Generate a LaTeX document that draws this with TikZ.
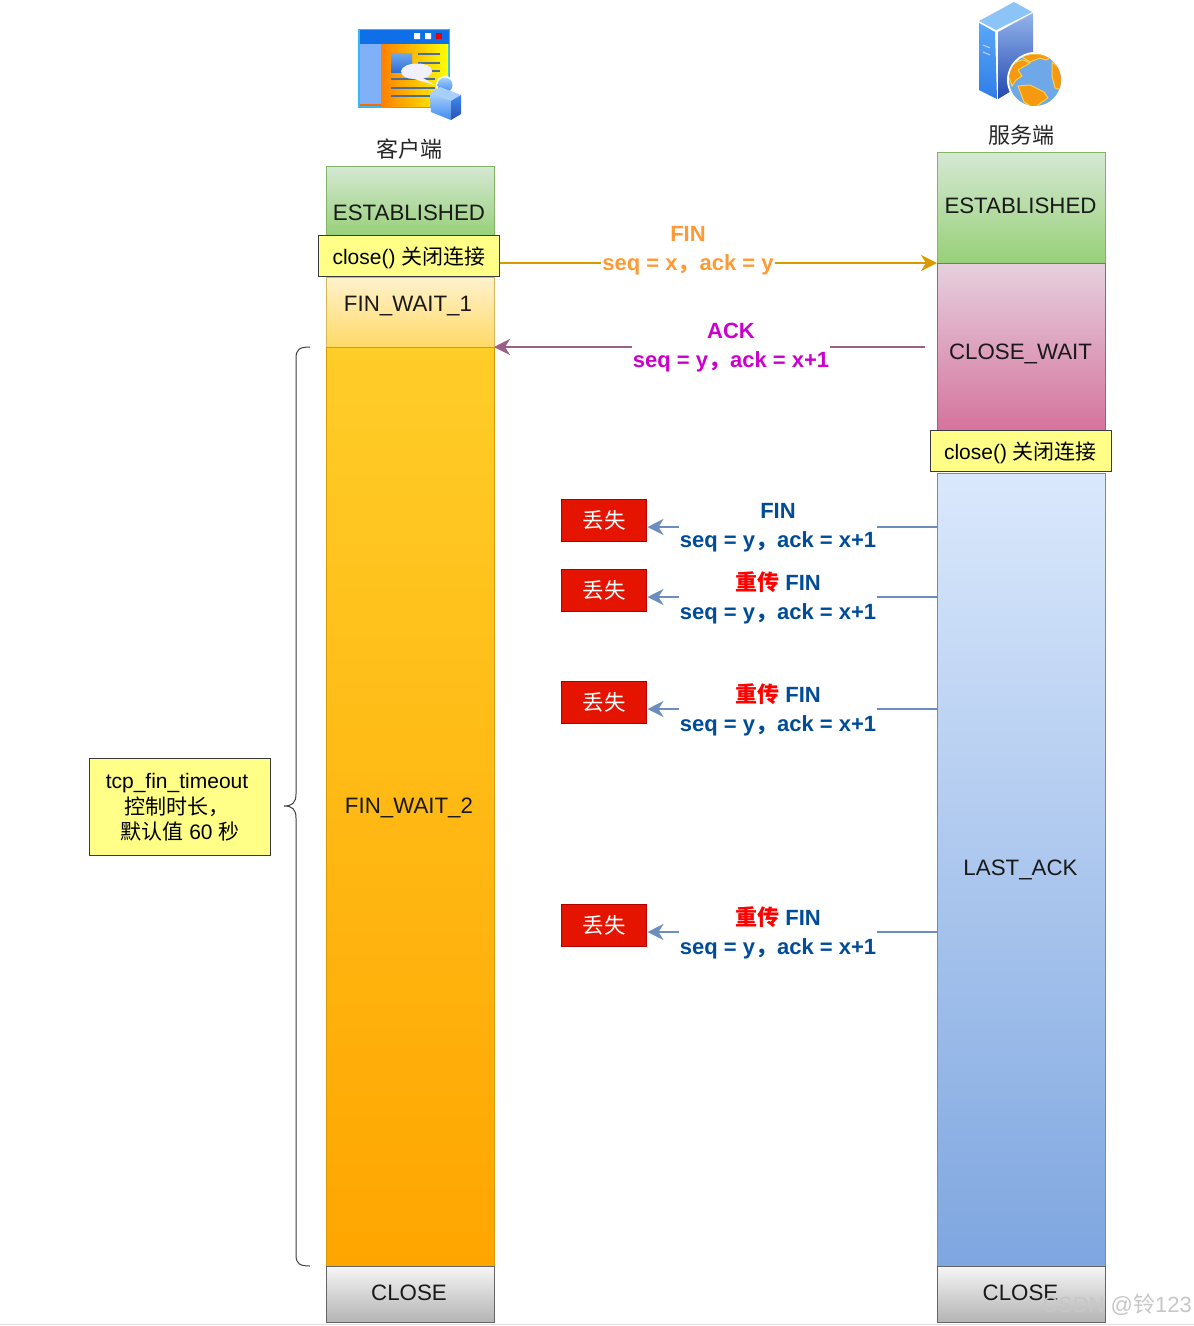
\documentclass[tikz,border=0pt]{standalone}
\usepackage{fontspec}
\setmainfont{Liberation Sans}
\newfontfamily\cjk{Noto Sans CJK SC}
\usetikzlibrary{arrows.meta}
\definecolor{gnA}{HTML}{D5E8D4}\definecolor{gnB}{HTML}{97D077}\definecolor{gnL}{HTML}{82B366}
\definecolor{ylA}{HTML}{FFF2CC}\definecolor{ylB}{HTML}{FFD966}\definecolor{ylL}{HTML}{D6B656}
\definecolor{orA}{HTML}{FFCD28}\definecolor{orB}{HTML}{FFA500}\definecolor{orL}{HTML}{D79B00}
\definecolor{pkA}{HTML}{E6D0DE}\definecolor{pkB}{HTML}{D5739D}\definecolor{pkL}{HTML}{996185}
\definecolor{blA}{HTML}{DAE8FC}\definecolor{blB}{HTML}{7EA6E0}\definecolor{blL}{HTML}{6C8EBF}
\definecolor{gyA}{HTML}{F5F5F5}\definecolor{gyB}{HTML}{B3B3B3}\definecolor{gyL}{HTML}{666666}
\definecolor{noteF}{HTML}{FFFF88}\definecolor{noteL}{HTML}{36393D}
\definecolor{lossF}{HTML}{E51400}\definecolor{lossL}{HTML}{B20000}
\definecolor{txO}{HTML}{FF9933}\definecolor{txP}{HTML}{CC00CC}\definecolor{txB}{HTML}{004C99}
\definecolor{icBar}{HTML}{0F6FE8}\definecolor{icEdge}{HTML}{33BBEE}\definecolor{icSide}{HTML}{80B0F8}
\definecolor{icLine}{HTML}{4A6E96}\definecolor{icPicA}{HTML}{6FA8EC}\definecolor{icPicB}{HTML}{2F6FD8}
\definecolor{icCubeA}{HTML}{A8D0FC}\definecolor{icCubeB}{HTML}{3F8AF0}\definecolor{icCubeC}{HTML}{2A50B0}
\definecolor{icSrvA}{HTML}{5AA8F8}\definecolor{icSrvB}{HTML}{2F7DE8}\definecolor{icSrvC}{HTML}{93B4EC}\definecolor{icSrvD}{HTML}{2448B0}
\definecolor{icSrvT}{HTML}{8CC4F8}\definecolor{icSea}{HTML}{6FA8E8}\definecolor{icLand}{HTML}{F59A10}\definecolor{icCoast}{HTML}{FFD040}
\tikzset{
  x=1pt,y=-1pt,
  band/.style={draw,line width=1pt,minimum width=168pt,anchor=north west,inner sep=0pt},
  bandtext/.style={font=\fontsize{22.3}{26}\selectfont,text=black!90,inner sep=0pt},
  est/.style={band,top color=gnA,bottom color=gnB,draw=gnL},
  fwa/.style={band,top color=ylA,bottom color=ylB,draw=ylL},
  fwb/.style={band,top color=orA,bottom color=orB,draw=orL},
  cw/.style={band,top color=pkA,bottom color=pkB,draw=pkL},
  la/.style={band,top color=blA,bottom color=blB,draw=blL},
  cl/.style={band,top color=gyA,bottom color=gyB,draw=gyL},
  note/.style={draw=noteL,fill=noteF,line width=1pt,minimum width=181pt,minimum height=41pt,font=\fontsize{21}{24}\selectfont,inner sep=0pt},
  loss/.style={draw=lossL,fill=lossF,line width=1pt,minimum width=85pt,minimum height=42pt,text=white,font=\cjk\fontsize{21.5}{24}\selectfont,inner sep=0pt},
  msg/.style={fill=white,align=center,font=\bfseries\fontsize{22}{29}\selectfont,inner sep=1pt},
  conn/.style={line width=2.4pt,-{Stealth[length=16pt,width=16pt,inset=5pt]}},
  title/.style={font=\cjk\fontsize{22}{26}\selectfont,text=black!85,inner sep=0pt},
}
\newcommand{\cm}{{\cjk ，}}
\begin{document}
\begin{tikzpicture}
\useasboundingbox (0,0) rectangle (1194,1326);
\fill[white] (0,0) rectangle (1194,1326);
\draw[black!12,line width=1pt] (0,1324.5) -- (1194,1324.5);

% client icon
\fill[icEdge] (357.5,29) rectangle (450,108);
\fill[icBar] (359.5,30) rectangle (448.5,44);
\fill[white] (414,33) rectangle (420,39) (425,33) rectangle (431,39);
\fill[red!90!black] (436,33) rectangle (442,39);
\fill[icSide] (359.5,44) rectangle (381,104);
\shade[left color=orange,right color=yellow] (381,44) rectangle (448,106);
\fill[orange!80!red] (359.5,104) rectangle (381,106);
\shade[top color=icPicA,bottom color=icPicB] (391,53) rectangle (412,72);
\foreach \yy/\xa/\xb in {54/418/440,63/418/440,71/418/440,79/391/435,88/391/435,96/391/430}
  \draw[icLine,line width=1.4pt] (\xa,\yy) -- (\xb,\yy);
\fill[blue!6!white] (401,71) .. controls (403,61) and (432,61) .. (432,71) .. controls (432,75) and (427,78) .. (423,78) -- (435,85) -- (414,79) .. controls (407,79) and (401,76) .. (401,71) -- cycle;
\fill[white] (445,85) circle (9);
\shade[top color=icCubeA,bottom color=icCubeB] (445,85) circle (7.5);
\fill[icCubeA] (430,93) -- (440,87) -- (461,95) -- (451,101) -- cycle;
\shade[top color=icCubeA,bottom color=icCubeB] (430,93) -- (451,101) -- (451,120) -- (431,112) -- cycle;
\shade[top color=icCubeB,bottom color=icCubeC] (451,101) -- (461,95) -- (461,114) -- (451,120) -- cycle;

% server icon
\fill[icSrvT] (979,21) -- (1014,2) -- (1032,12) -- (996,30) -- cycle;
\shade[top color=icSrvA,bottom color=icSrvB] (979,23) -- (995,32) -- (997,99) -- (979,90) -- cycle;
\shade[top color=icSrvC,bottom color=icSrvD] (998,32) -- (1033,13) -- (1033,78) -- (998,99) -- cycle;
\draw[white!80!blue,line width=1pt] (983,45) -- (990,48) (983,52) -- (990,55);
\fill[white] (1035,80) circle (28);
\fill[icSea] (1035,80) circle (26);
\begin{scope}
\clip (1035,80) circle (26);
\fill[icLand,draw=icCoast,line width=1pt] (1022,57) .. controls (1030,53) and (1042,53) .. (1050,58) -- (1046,60) -- (1040,58) -- (1030,62) -- cycle;
\fill[icLand,draw=icCoast,line width=1pt] (1008,74) .. controls (1010,66) and (1016,60) .. (1024,60) -- (1030,63) -- (1018,70) -- (1022,76) -- (1016,80) -- (1012,86) -- cycle;
\fill[icLand,draw=icCoast,line width=1pt] (1018,86) -- (1030,85) -- (1044,92) -- (1048,98) -- (1042,102) -- (1034,108) -- (1024,102) -- cycle;
\fill[icLand,draw=icCoast,line width=1pt] (1052,62) -- (1062,70) -- (1062,90) -- (1055,88) -- (1052,76) -- cycle;
\end{scope}

% titles
\node[title] (clienttitle) at (409.5,149) {客户端};
\node[title] (servertitle) at (1021,135) {服务端};

% client column
\node[est,minimum height=70pt] (cest) at (325.5,166) {};
\node[fwa,minimum height=70pt] (cfw1) at (325.5,277) {};
\node[fwb,minimum height=919pt] (cfw2) at (325.5,347) {};
\node[cl,minimum height=56pt] (ccl) at (325.5,1266) {};
\node[bandtext] (cestt) at (409,213) {ESTABLISHED};
\node[bandtext] (cfw1t) at (408,306) {FIN\_WAIT\_1};
\node[bandtext] (cfw2t) at (409,807.5) {FIN\_WAIT\_2};
\node[bandtext] (cclt) at (409,1293) {CLOSE};
\node[note] (cclose) at (409,256) {};
\node[inner sep=0pt,font=\fontsize{21}{24}\selectfont] (cclosetxt) at (409,258) {close() {\cjk 关闭连接}};

% server column
\node[est,minimum height=111pt] (sest) at (936.5,152) {};
\node[cw,minimum height=168pt] (scw) at (936.5,263) {};
\node[la,minimum height=793pt] (sla) at (936.5,473) {};
\node[cl,minimum height=56pt] (scl) at (936.5,1266) {};
\node[bandtext] (sestt) at (1020.5,206) {ESTABLISHED};
\node[bandtext] (scwt) at (1020.5,354) {CLOSE\_WAIT};
\node[bandtext] (slat) at (1020.5,869.5) {LAST\_ACK};
\node[bandtext] (sclt) at (1020.5,1293) {CLOSE};
\node[note] (sclose) at (1020.5,451) {};
\node[inner sep=0pt,font=\fontsize{21}{24}\selectfont] (sclosetxt) at (1020.5,453) {close() {\cjk 关闭连接}};

% FIN / ACK
\coordinate (finend) at (937,263);
\draw[conn,draw=orL] (cclose.east |- finend) -- (finend);
\node[msg,text=txO] (finlabel) at (688,251) {FIN\\seq = x\cm ack = y};
\coordinate (ackstart) at (925,347);
\coordinate (ackend) at (494,347);
\draw[conn,draw=pkL] (ackstart) -- (ackend);
\node[msg,text=txP] (acklabel) at (731,348) {ACK\\seq = y\cm ack = x+1};

% lost packets
\foreach \nm/\yy/\head in {a/527/{FIN},b/597/{\textcolor{red}{\cjk\bfseries 重传} FIN},c/709/{\textcolor{red}{\cjk\bfseries 重传} FIN},d/932/{\textcolor{red}{\cjk\bfseries 重传} FIN}}{
  \node[loss] (loss\nm) at (604,\yy-6.5) {丢失};
  \coordinate (start\nm) at (937,\yy);
  \coordinate (lossend\nm) at (647.5,\yy);
  \draw[conn,draw=blL] (start\nm) -- (lossend\nm);
  \node[msg,text=txB] (msg\nm) at (778,\yy+1) {\head\\seq = y\cm ack = x+1};
}

% timeout note and brace
\node[draw=noteL,fill=noteF,line width=1pt,minimum width=181pt,minimum height=97pt,inner sep=0pt] (tcpnote) at (180,806.5) {};
\node[inner sep=0pt,font=\fontsize{21}{24}\selectfont] (tcpa) at (177,783.5) {tcp\_fin\_timeout};
\node[inner sep=0pt,font=\cjk\fontsize{21}{24}\selectfont] (tcpb) at (177,807) {控制时长，};
\node[inner sep=0pt,font=\fontsize{21}{24}\selectfont] (tcpc) at (180,832) {{\cjk 默认值} 60 {\cjk 秒}};
\coordinate (bracetop) at (310,347);
\coordinate (bracetip) at (284,806);
\coordinate (bracebot) at (310,1266);
\draw[black!75,line width=1pt] (bracetop) .. controls (300,347) and (296,349) .. (296,358) -- (296,794) .. controls (296,803) and (292,806) .. (bracetip) .. controls (292,806) and (296,809) .. (296,818) -- (296,1255) .. controls (296,1264) and (300,1266) .. (bracebot);

% watermark
\node[inner sep=0pt,text=black!22,font=\fontsize{22}{26}\selectfont] (mark) at (1117,1305) {CSDN @{\cjk 铃}123};
\end{tikzpicture}
\end{document}
